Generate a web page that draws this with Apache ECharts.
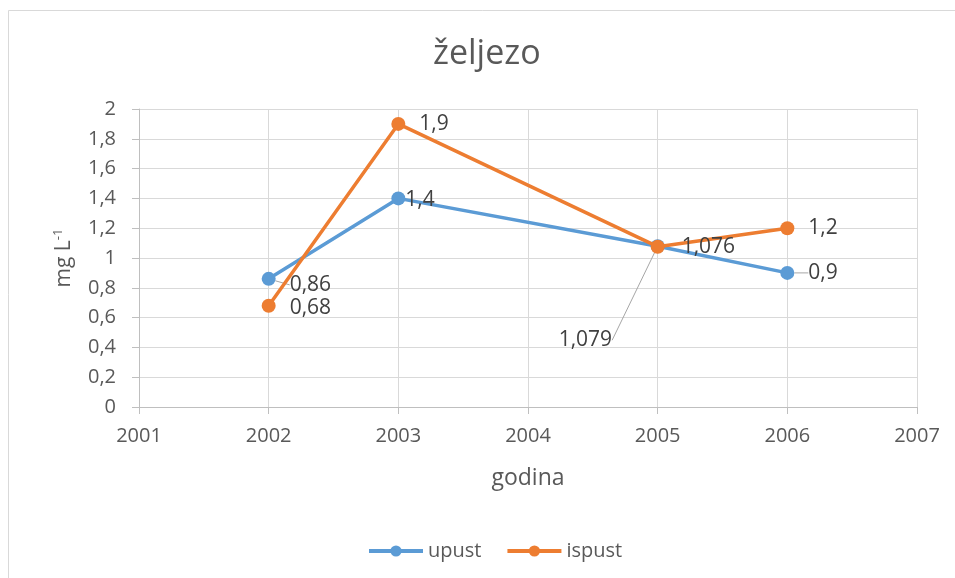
<!DOCTYPE html>
<html>
<head>
<meta charset="utf-8">
<script src="https://cdn.jsdelivr.net/npm/echarts@6/dist/echarts.min.js"></script>
<style>
  html, body { margin: 0; padding: 0; background: #fff; }
  #chart { width: 955px; height: 578px; }
</style>
</head>
<body>
<div id="chart"></div>
<script>
const years = [2002, 2003, 2005, 2006];
const upust = [0.86, 1.4, 1.079, 0.9];
const ispust = [0.68, 1.9, 1.076, 1.2];

const font = '"Open Sans", "Liberation Sans", sans-serif';
const textColor = '#595959';

function comma(v) {
  return String(Math.round(v * 1000) / 1000).replace('.', ',');
}

function pairs(xs, ys) {
  return xs.map((x, i) => [x, ys[i]]);
}

const chart = echarts.init(document.getElementById('chart'));

chart.setOption({
  backgroundColor: '#fff',
  textStyle: { fontFamily: font, color: textColor },
  title: {
    text: 'željezo',
    left: 428,
    top: 32,
    textStyle: { fontFamily: font, fontSize: 34, fontWeight: 'normal', color: textColor }
  },
  graphic: [{
    type: 'rect',
    shape: { x: 8.5, y: 10.5, width: 960, height: 600 },
    style: { fill: 'none', stroke: '#d9d9d9', lineWidth: 1 },
    silent: true
  }],
  legend: {
    bottom: 12,
    left: 362,
    itemWidth: 54,
    itemHeight: 14,
    itemGap: 24,
    lineStyle: { width: 4 },
    textStyle: { fontFamily: font, fontSize: 20, color: textColor },
    data: ['upust', 'ispust']
  },
  grid: { left: 139, right: 38, top: 109, bottom: 171 },
  xAxis: {
    type: 'value',
    min: 2001,
    max: 2007,
    interval: 1,
    name: 'godina',
    nameLocation: 'middle',
    nameGap: 60,
    nameTextStyle: { fontFamily: font, fontSize: 23, color: textColor },
    axisLine: { show: true, onZero: false, lineStyle: { color: '#bfbfbf', width: 1 } },
    axisTick: { show: true, length: 7, lineStyle: { color: '#bfbfbf' } },
    axisLabel: { fontSize: 20, color: textColor, margin: 19, formatter: v => String(v) },
    splitLine: { show: true, lineStyle: { color: '#d9d9d9', width: 1 } }
  },
  yAxis: {
    type: 'value',
    min: 0,
    max: 2,
    interval: 0.2,
    name: '{a|mg L}{b|-1}',
    nameLocation: 'middle',
    nameGap: 63,
    nameRotate: 90,
    nameTextStyle: {
      fontFamily: font, fontSize: 21, color: textColor,
      rich: {
        a: { fontFamily: font, fontSize: 21, color: textColor },
        b: { fontFamily: font, fontSize: 13, color: textColor, padding: [0, 0, 11, 0] }
      }
    },
    axisLine: { show: true, lineStyle: { color: '#bfbfbf', width: 1 } },
    axisTick: { show: true, length: 7, lineStyle: { color: '#bfbfbf' } },
    axisLabel: { fontSize: 20, color: textColor, margin: 23, formatter: v => comma(v) },
    splitLine: { show: true, lineStyle: { color: '#d9d9d9', width: 1 } }
  },
  series: [
    {
      name: 'upust',
      type: 'line',
      data: pairs(years, upust),
      symbol: 'circle',
      symbolSize: 14,
      color: '#5b9bd5',
      lineStyle: { width: 3.5, color: '#5b9bd5' },
      itemStyle: { color: '#5b9bd5' },
      label: {
        show: true,
        position: 'right',
        distance: 14,
        fontSize: 21,
        color: '#404040',
        formatter: p => comma(p.value[1])
      },
      labelLine: { show: true, lineStyle: { color: '#a6a6a6', width: 1 } },
      labelLayout: p => {
        if (p.dataIndex === 0) return { dy: 6 };
        if (p.dataIndex === 1) return { dx: -14, dy: 2 };
        if (p.dataIndex === 2) return { dx: -120, dy: 94 };
        return {};
      },
      z: 2
    },
    {
      name: 'ispust',
      type: 'line',
      data: pairs(years, ispust),
      symbol: 'circle',
      symbolSize: 14,
      color: '#ed7d31',
      lineStyle: { width: 3.5, color: '#ed7d31' },
      itemStyle: { color: '#ed7d31' },
      label: {
        show: true,
        position: 'right',
        distance: 14,
        fontSize: 21,
        color: '#404040',
        formatter: p => comma(p.value[1])
      },
      labelLayout: p => {
        if (p.dataIndex === 0) return { dy: 2 };
        if (p.dataIndex === 2) return { dx: 3 };
        return {};
      },
      z: 3
    }
  ],
  animation: false
});
</script>
</body>
</html>
